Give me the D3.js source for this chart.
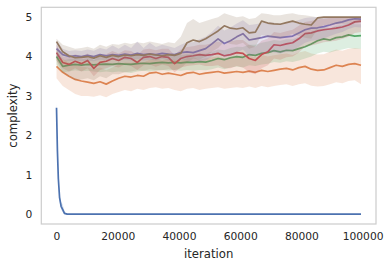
<!DOCTYPE html>
<html>
<head>
<meta charset="UTF-8">
<title>complexity vs iteration</title>
<script src="https://cdn.jsdelivr.net/npm/d3@7"></script>
<style>
* { margin: 0; padding: 0; }
body { background: #fff; }
#chart { display: block; }
text { font-family: "DejaVu Sans", sans-serif; fill: #262626; }
</style>
</head>
<body>
<svg id="chart"></svg>
<script>
// shared x positions for the noisy runs
const iterations = d3.range(0, 100000, 2030);

// the run that collapses to zero has its own, denser sampling at the start
const blueIter = [0, 300, 600, 1000, 1500, 2000, 2600, 3500, 99470];
const blueMean = [2.7, 1.6, 0.9, 0.42, 0.2, 0.12, 0.02, 0, 0];
const blueLo   = [2.55, 1.45, 0.78, 0.34, 0.12, 0.05, 0, 0, 0];
const blueHi   = [2.86, 1.75, 1.02, 0.5, 0.3, 0.25, 0.08, 0, 0];

const orangeMean = [3.75,3.6,3.5,3.42,3.38,3.35,3.32,3.36,3.3,3.38, 3.45,3.5,3.48,3.52,3.5,3.58,3.6,3.55,3.58,3.55,
  3.52,3.58,3.6,3.55,3.58,3.6,3.62,3.58,3.6,3.62, 3.6,3.63,3.6,3.65,3.62,3.65,3.68,3.7,3.66,3.72,
  3.75,3.68,3.65,3.66,3.72,3.78,3.75,3.8,3.82,3.78];
const orangeLo = [3.45,3.25,3.15,3.05,3.0,3.0,2.98,3.02,2.97,3.05, 3.1,3.15,3.12,3.18,3.15,3.2,3.22,3.18,3.2,3.15,
  3.12,3.18,3.2,3.15,3.18,3.2,3.22,3.18,3.2,3.22, 3.2,3.24,3.2,3.25,3.22,3.25,3.28,3.3,3.25,3.3,
  3.32,3.26,3.24,3.25,3.3,3.35,3.32,3.38,3.4,3.3];
const orangeHi = [4.05,3.95,3.85,3.8,3.75,3.72,3.68,3.72,3.65,3.72, 3.8,3.85,3.84,3.86,3.85,3.92,3.95,3.9,3.94,3.92,
  3.9,3.96,3.98,3.92,3.96,3.98,4.0,3.96,3.98,4.0, 3.98,4.02,3.98,4.04,4.0,4.03,4.06,4.08,4.04,4.1,
  4.14,4.08,4.05,4.06,4.12,4.18,4.15,4.2,4.22,4.2];

const greenMean = [4.0,3.75,3.78,3.8,3.78,3.8,3.79,3.8,3.81,3.8, 3.82,3.81,3.8,3.82,3.83,3.82,3.84,3.85,3.84,3.85,
  3.84,3.86,3.85,3.87,3.86,3.9,3.95,3.92,3.97,4.0, 3.98,4.05,4.03,4.08,4.1,4.15,4.12,4.16,4.15,4.2,
  4.25,4.32,4.4,4.45,4.42,4.48,4.5,4.55,4.52,4.53];
const greenLo = [3.8,3.6,3.62,3.65,3.63,3.64,3.62,3.6,3.62,3.6, 3.62,3.6,3.58,3.62,3.64,3.62,3.64,3.66,3.64,3.66,
  3.64,3.66,3.64,3.66,3.65,3.68,3.72,3.68,3.72,3.75, 3.72,3.78,3.76,3.8,3.82,3.86,3.84,3.88,3.86,3.9,
  3.95,4.0,4.08,4.12,4.1,4.15,4.18,4.22,4.2,4.2];
const greenHi = [4.2,3.9,3.94,3.96,3.93,3.96,3.96,4.0,4.0,4.0, 4.02,4.02,4.02,4.02,4.02,4.02,4.04,4.04,4.04,4.05,
  4.04,4.06,4.06,4.08,4.07,4.12,4.18,4.16,4.22,4.25, 4.24,4.3,4.3,4.35,4.38,4.42,4.4,4.44,4.44,4.5,
  4.55,4.62,4.7,4.75,4.72,4.78,4.8,4.85,4.82,4.82];

const redMean = [4.1,3.85,3.8,3.88,3.82,3.9,3.7,3.85,3.88,3.95, 3.9,3.98,3.95,3.85,3.98,4.0,3.95,4.0,3.98,3.82,
  3.95,4.0,4.02,4.05,4.03,4.05,4.08,4.02,4.05,4.1, 4.08,3.95,3.9,4.05,4.12,4.3,4.28,4.32,4.35,4.45,
  4.58,4.6,4.65,4.68,4.7,4.72,4.75,4.8,4.88,4.9];
const redLo = [3.9,3.7,3.62,3.7,3.62,3.7,3.5,3.66,3.7,3.76, 3.72,3.8,3.76,3.66,3.78,3.8,3.74,3.8,3.76,3.6,
  3.72,3.76,3.78,3.8,3.76,3.76,3.78,3.7,3.7,3.76, 3.72,3.6,3.55,3.7,3.78,3.95,3.92,3.98,4.0,4.1,
  4.25,4.28,4.32,4.36,4.38,4.4,4.45,4.5,4.6,4.62];
const redHi = [4.3,4.0,3.98,4.06,4.0,4.08,3.9,4.04,4.06,4.14, 4.08,4.16,4.14,4.04,4.18,4.2,4.16,4.2,4.2,4.04,
  4.18,4.24,4.26,4.3,4.3,4.34,4.38,4.32,4.38,4.42, 4.42,4.3,4.25,4.4,4.46,4.62,4.6,4.64,4.68,4.78,
  4.88,4.9,4.94,4.96,4.98,5.0,5.0,5.0,5.0,5.0];

const purpleMean = [4.2,4.05,4.0,4.02,4.0,4.03,4.0,4.05,4.02,4.05, 4.03,4.06,4.04,4.08,4.05,4.07,4.05,4.08,4.06,4.05,
  4.1,4.12,4.1,4.15,4.2,4.32,4.45,4.33,4.4,4.5, 4.58,4.42,4.45,4.48,4.52,4.5,4.48,4.5,4.52,4.6,
  4.68,4.72,4.73,4.76,4.8,4.85,4.88,4.93,4.96,4.95];
const purpleLo = [4.0,3.92,3.88,3.9,3.88,3.9,3.88,3.92,3.9,3.92, 3.9,3.92,3.9,3.94,3.9,3.92,3.9,3.94,3.9,3.9,
  3.92,3.9,3.86,3.88,3.9,4.0,4.1,3.98,4.02,4.1, 4.18,4.02,4.05,4.08,4.12,4.1,4.08,4.12,4.15,4.25,
  4.35,4.4,4.42,4.46,4.52,4.58,4.62,4.7,4.75,4.74];
const purpleHi = [4.4,4.2,4.14,4.16,4.14,4.18,4.15,4.22,4.18,4.28, 4.2,4.3,4.22,4.38,4.22,4.35,4.24,4.3,4.26,4.22,
  4.3,4.36,4.36,4.44,4.5,4.62,4.78,4.66,4.74,4.84, 4.92,4.8,4.82,4.85,4.88,4.86,4.84,4.86,4.88,4.93,
  4.98,5.0,5.0,5.0,5.0,5.0,5.0,5.0,5.0,5.0];

const brownMean = [4.38,4.12,4.02,3.97,3.98,4.0,3.96,4.02,3.98,4.03, 4.0,4.04,4.02,4.05,4.03,4.06,4.04,4.02,4.05,4.03,
  4.08,4.35,4.42,4.38,4.45,4.55,4.65,4.78,4.72,4.7, 4.73,4.6,4.62,4.9,4.85,4.83,4.82,4.86,4.9,4.85,
  4.82,4.8,4.98,5.0,5.0,5.0,5.0,5.0,5.0,5.0];
const brownLo = [3.9,3.6,3.5,3.4,3.42,3.45,3.4,3.5,3.45,3.55, 3.55,3.6,3.62,3.65,3.64,3.68,3.66,3.65,3.68,3.66,
  3.7,3.85,3.95,3.92,4.0,4.12,4.22,4.38,4.32,4.3, 4.35,4.2,4.25,4.55,4.5,4.48,4.46,4.52,4.58,4.52,
  4.48,4.45,4.7,4.8,4.8,4.82,4.82,4.84,4.84,4.85];
const brownHi = [4.45,4.3,4.25,4.2,4.22,4.25,4.2,4.3,4.25,4.32, 4.3,4.35,4.32,4.36,4.34,4.38,4.35,4.32,4.36,4.34,
  4.5,4.85,4.95,4.85,4.9,4.95,5.0,5.1,5.05,5.0, 5.02,4.95,4.98,5.1,5.08,5.05,5.05,5.08,5.1,5.06,
  5.05,5.02,5.0,5.0,5.0,5.0,5.0,5.0,5.0,5.0];

const xTicks = [0, 20000, 40000, 60000, 80000, 100000];
const yTicks = [0, 1, 2, 3, 4, 5];

const runs = [
  { x: blueIter,   mean: blueMean,   lo: blueLo,   hi: blueHi,   color: "#4c72b0" },
  { x: iterations, mean: orangeMean, lo: orangeLo, hi: orangeHi, color: "#dd8452" },
  { x: iterations, mean: greenMean,  lo: greenLo,  hi: greenHi,  color: "#55a868" },
  { x: iterations, mean: redMean,    lo: redLo,    hi: redHi,    color: "#c44e52" },
  { x: iterations, mean: purpleMean, lo: purpleLo, hi: purpleHi, color: "#8172b3" },
  { x: iterations, mean: brownMean,  lo: brownLo,  hi: brownHi,  color: "#937860" }
];

const W = 392, H = 268;
const box = { left: 41.3, right: 376, top: 7.3, bottom: 224 };

const svg = d3.select("#chart").attr("width", W).attr("height", H);

const x = d3.scaleLinear().domain([-4970, 104370]).range([box.left, box.right]);
const y = d3.scaleLinear().domain([-0.25, 5.25]).range([box.bottom, box.top]);

svg.append("defs").append("clipPath").attr("id", "clip")
  .append("rect")
  .attr("x", box.left).attr("y", box.top)
  .attr("width", box.right - box.left).attr("height", box.bottom - box.top);

const plot = svg.append("g").attr("clip-path", "url(#clip)");

runs.forEach(r => {
  const pts = r.x.map((v, i) => ({ it: v, m: r.mean[i], lo: r.lo[i], hi: r.hi[i] }));
  plot.append("path")
    .datum(pts)
    .attr("fill", r.color)
    .attr("fill-opacity", 0.2)
    .attr("d", d3.area().x(d => x(d.it)).y0(d => y(d.lo)).y1(d => y(d.hi)));
  plot.append("path")
    .datum(pts)
    .attr("fill", "none")
    .attr("stroke", r.color)
    .attr("stroke-width", 1.7)
    .attr("stroke-linejoin", "round")
    .attr("d", d3.line().x(d => x(d.it)).y(d => y(d.m)));
});

// frame
svg.append("rect")
  .attr("x", box.left).attr("y", box.top)
  .attr("width", box.right - box.left).attr("height", box.bottom - box.top)
  .attr("fill", "none").attr("stroke", "#cccccc").attr("stroke-width", 1.2);

// axes without tick marks, seaborn white style
const xAxis = svg.append("g")
  .attr("transform", `translate(0,${box.bottom})`)
  .call(d3.axisBottom(x).tickValues(xTicks).tickSize(0).tickPadding(8).tickFormat(d3.format("d")));
const yAxis = svg.append("g")
  .attr("transform", `translate(${box.left},0)`)
  .call(d3.axisLeft(y).tickValues(yTicks).tickSize(0).tickPadding(9).tickFormat(d3.format("d")));
[xAxis, yAxis].forEach(a => {
  a.select(".domain").remove();
  a.selectAll("text").style("font-size", "10.7px").attr("fill", "#262626");
  a.attr("font-family", null);
});
xAxis.selectAll("text").attr("dy", "0.71em");

svg.append("text")
  .attr("x", (box.left + box.right) / 2)
  .attr("y", 257.5)
  .attr("text-anchor", "middle")
  .style("font-size", "11.7px")
  .text("iteration");

svg.append("text")
  .attr("transform", `translate(17,${(box.top + box.bottom) / 2}) rotate(-90)`)
  .attr("text-anchor", "middle")
  .style("font-size", "11.7px")
  .text("complexity");
</script>
</body>
</html>
